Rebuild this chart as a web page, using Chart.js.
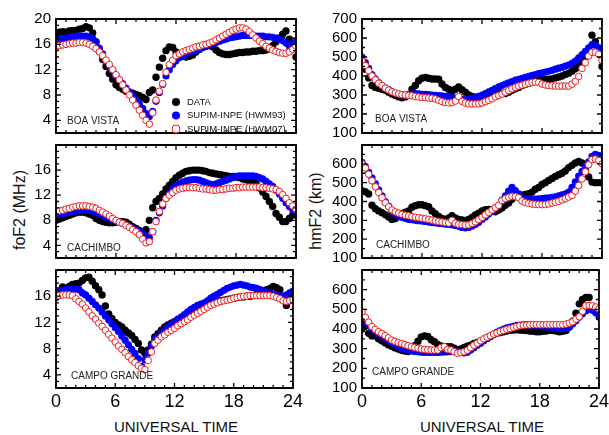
<!DOCTYPE html>
<html>
<head>
<meta charset="utf-8">
<script src="https://cdn.jsdelivr.net/npm/chart.js@4.4.0/dist/chart.umd.min.js"></script>
<style>
  body { margin: 0; background: #fff; }
  #wrap { position: relative; width: 609px; height: 435px; overflow: hidden; background: #fff;
          font-family: "Liberation Sans", Arial, Helvetica, sans-serif; color: #111; }
  #wrap canvas { position: absolute; }
  .lab { position: absolute; font-size: 15px; white-space: nowrap; transform: translate(-50%, -50%); }
  .rot { transform: translate(-50%, -50%) rotate(-90deg); font-size: 16px; }
</style>
</head>
<body>
<div id="wrap">
  <div class="lab rot" style="left:20px; top:210px;">foF2 (MHz)</div>
  <div class="lab rot" style="left:316px; top:211px;">hmF2 (km)</div>
  <div class="lab" style="left:176px; top:426px;">UNIVERSAL TIME</div>
  <div class="lab" style="left:482px; top:426px;">UNIVERSAL TIME</div>
</div>
<script>
// time grid: every 20 minutes, 0..24 UT
const hours = Array.from({ length: 73 }, (_, i) => i / 3);

const xTicks = [0, 6, 12, 18, 24];
const fofTicksTop = [4, 8, 12, 16, 20];
const fofTicks = [4, 8, 12, 16];
const hmfTicksTop = [100, 200, 300, 400, 500, 600, 700];
const hmfTicks = [100, 200, 300, 400, 500, 600];
const seriesNames = ['DATA', 'SUPIM-INPE (HWM93)', 'SUPIM-INPE (HWM07)'];

// foF2 (MHz) - Boa Vista
const bvFoData = [17.6,17.9,18.0, 17.9,18.1,18.2, 18.2,18.4,18.5, 18.8,18.6,17.8, 16.4,15.0,13.6, 12.5,11.4,10.5,
  9.6,9.2,8.9, 8.6,8.4,8.3, 8.1,7.9,7.6, 7.3,8.4,8.8, 10.8,12.4,13.8, 15.0,15.6,15.5,
  14.8,14.3,14.1, 14.0,14.1,14.3, 14.8,15.2,15.5, 15.7,15.8,15.6, 15.1,14.7,14.5, 14.4,14.4,14.5,
  14.6,14.7,14.7, 14.8,14.8,14.9, 14.9,15.0,15.0, 15.1,15.3,15.8, 16.4,17.0,17.6, 18.1,16.8,15.6,
  14.0];
const bvFo93 = [16.4,16.7,16.9, 17.0,17.1,17.2, 17.3,17.3,17.3, 17.3,17.2,16.9, 16.3,15.4,14.5, 13.4,12.6,11.8,
  11.1,10.4,9.8, 9.1,8.5,7.9, 7.2,6.6,5.9, 5.1,4.6,5.4, 7.0,8.4,9.7, 11.0,12.0,12.8,
  13.4,13.9,14.2, 14.5,14.7,14.9, 15.1,15.3,15.5, 15.7,15.9,16.1, 16.3,16.5,16.7, 16.8,17.0,17.1,
  17.2,17.3,17.4, 17.4,17.4,17.4, 17.3,17.3,17.3, 17.2,17.2,17.1, 17.0,16.8,16.6, 16.2,15.7,16.0,
  16.4];
const bvFo07 = [15.6,15.8,15.9, 16.0,16.1,16.2, 16.2,16.3,16.3, 16.2,16.0,15.7, 15.3,14.8,14.2, 13.5,12.8,12.0,
  11.2,10.4,9.6, 8.8,8.0,7.2, 6.4,5.6,4.8, 4.0,3.4,5.2, 7.2,8.6,9.8, 11.6,12.8,13.5,
  14.2,14.5,14.8, 15.0,15.2,15.4, 15.6,15.7,15.9, 16.0,16.2,16.4, 16.7,17.0,17.3, 17.6,17.9,18.2,
  18.4,18.6,18.6, 18.4,18.0,17.5, 17.0,16.5,16.1, 15.7,15.4,15.1, 14.9,14.7,14.6, 14.6,14.8,15.2,
  15.7];

// foF2 (MHz) - Cachimbo
const caFoData = [8.0,8.2,8.4, 8.6,8.8,9.0, 9.2,9.3,9.3, 9.2,9.0,8.8, 8.3,8.0,7.8, 7.7,7.6,7.6,
  7.7,7.8,7.8, 7.7,7.4,7.0, 6.7,6.4,6.0, 6.5,8.0,10.0, 11.0,11.5,12.2, 13.0,13.6,14.2,
  14.8,15.2,15.5, 15.8,15.9,16.0, 16.0,16.0,15.9, 15.8,15.6,15.5, 15.4,15.3,15.2, 15.1,15.0,15.0,
  14.9,14.8,14.6, 14.5,14.3,14.2, 14.0,13.2,12.5, 11.8,11.0,10.2, 9.1,8.5,7.8, 7.8,8.3,8.8,
  9.2];
const caFo93 = [8.9,9.0,9.1, 9.2,9.3,9.4, 9.5,9.6,9.7, 9.7,9.6,9.5, 9.3,9.0,8.8, 8.5,8.3,8.1,
  7.9,7.7,7.5, 7.3,7.0,6.8, 6.5,6.2,5.9, 5.5,5.2,6.2, 8.0,9.2,10.3, 11.5,12.3,13.0,
  13.5,13.8,14.1, 14.3,14.4,14.5, 14.5,14.4,14.2, 14.0,13.8,13.7, 13.8,14.0,14.2, 14.4,14.6,14.8,
  15.0,15.1,15.1, 15.1,15.1,15.1, 15.0,14.8,14.6, 14.2,13.8,13.4, 12.8,12.2,11.5, 10.8,10.2,9.7,
  9.3];
const caFo07 = [9.3,9.5,9.6, 9.8,9.9,10.1, 10.2,10.3,10.3, 10.3,10.2,10.1, 9.9,9.6,9.3, 9.0,8.7,8.3,
  8.0,7.7,7.5, 7.2,6.9,6.5, 6.2,5.7,5.0, 4.4,4.6,6.2, 7.8,9.4,10.6, 11.5,12.0,12.4,
  12.8,13.0,13.1, 13.2,13.2,13.2, 13.2,13.1,13.0, 13.0,12.9,12.8, 12.8,12.9,12.9, 13.0,13.1,13.1,
  13.2,13.2,13.3, 13.3,13.3,13.3, 13.3,13.3,13.2, 13.2,13.1,13.0, 12.9,12.6,12.1, 11.5,10.8,10.3,
  9.8];

// foF2 (MHz) - Campo Grande
const cgFoData = [15.8,16.6,17.4, 17.2,17.5,17.8, 17.9,18.0,18.4, 18.8,18.9,18.3, 17.6,17.0,16.2, 14.5,13.3,12.6,
  12.0,11.6,11.3, 10.8,10.4,10.0, 9.4,8.8,7.8, 7.3,7.8,8.7, 9.8,10.3,10.8, 11.3,11.6,11.9,
  12.1,12.3,12.5, 12.8,13.2,13.6, 13.8,14.0,14.3, 14.6,14.8,14.9, 15.0,15.2,15.3, 15.4,15.5,15.6,
  15.7,15.8,15.9, 15.9,16.0,16.0, 16.1,16.3,16.5, 16.8,17.0,17.2, 17.5,17.3,17.0, 15.6,14.6,15.8,
  16.3];
const cgFo93 = [16.8,16.9,16.9, 17.0,17.0,17.1, 17.1,17.0,16.5, 16.2,15.7,15.2, 14.7,14.2,13.6, 13.0,12.4,11.8,
  11.2,10.6,9.9, 9.3,8.6,7.9, 7.3,6.5,5.3, 6.3,7.3,8.4, 9.4,9.8,10.3, 10.8,11.3,11.7,
  12.1,12.5,12.8, 13.2,13.6,14.0, 14.3,14.6,14.8, 15.0,15.3,15.7, 16.0,16.3,16.6, 16.9,17.2,17.4,
  17.6,17.7,17.8, 17.7,17.6,17.4, 17.3,17.2,17.0, 16.8,16.6,16.5, 16.3,16.2,16.0, 16.0,16.2,16.5,
  16.8];
const cgFo07 = [16.0,16.1,16.2, 16.2,16.2,16.1, 15.6,15.2,14.8, 14.2,13.6,13.0, 12.5,11.9,11.4, 10.8,10.2,9.6,
  9.0,8.4,7.9, 7.4,6.8,6.3, 5.9,5.4,5.0, 4.8,6.2,7.5, 8.8,9.3,9.8, 10.1,10.5,10.8,
  11.1,11.5,11.8, 12.1,12.4,12.8, 13.1,13.4,13.7, 14.0,14.3,14.6, 14.8,15.0,15.2, 15.3,15.4,15.5,
  15.7,15.8,15.9, 16.0,16.0,16.1, 16.1,16.1,16.1, 16.1,16.1,16.1, 16.0,15.8,15.6, 15.3,15.2,15.3,
  15.4];

// hmF2 (km) - Boa Vista
const bvHmData = [455,435,390, 350,340,335, 330,325,315, 305,298,290, 285,290,300, 330,350,375,
  388,392,388, 384,384,383, 358,340,330, 318,330,342, 328,315,300, 292,288,285,
  290,300,308, 315,318,315, 310,308,315, 325,333,340, 350,355,362, 368,372,376,
  380,382,383, 385,390,395, 400,408,415, 425,438,450, 470,500,540, 615,580,520,
  450];
const bvHm93 = [500,470,440, 408,385,365, 350,338,328, 318,310,305, 300,300,302, 305,308,306,
  304,303,302, 300,298,297, 295,293,291, 287,284,281, 277,276,278, 282,287,293,
  300,308,317, 325,334,343, 350,358,364, 370,378,383, 388,393,398, 404,408,412,
  416,420,425, 430,436,441, 446,452,458, 467,478,495, 513,530,548, 565,563,550,
  520];
const bvHm07 = [480,455,428, 400,380,362, 350,336,326, 317,311,306, 302,300,298, 296,292,289,
  287,286,284, 283,279,272, 265,260,258, 260,268,292, 267,258,253, 253,253,254,
  258,265,272, 280,290,297, 305,314,323, 332,340,347, 352,357,362, 366,368,366,
  358,353,350, 348,347,347, 347,347,347, 357,372,398, 440,470,505, 525,525,515,
  483];

// hmF2 (km) - Cachimbo
const caHmData = [458,452,440, 380,362,350, 340,330,318, 305,310,325, 335,343,350, 370,378,383,
  383,378,372, 350,335,320, 310,305,312, 325,312,305, 302,300,305, 315,328,338,
  350,356,358, 352,345,355, 365,380,392, 412,428,432, 433,438,442, 450,465,475,
  490,500,512, 522,533,542, 550,562,580, 592,605,612, 605,567,530, 503,500,500,
  500];
const caHm93 = [608,585,555, 525,495,462, 430,400,375, 350,335,322, 315,310,305, 303,300,298,
  296,294,291, 288,286,284, 282,280,278, 276,272,268, 262,260,262, 270,278,290,
  305,318,333, 347,362,377, 408,430,455, 475,458,440, 420,416,414, 413,413,414,
  416,418,420, 422,425,430, 435,440,450, 475,505,535, 560,585,610, 640,650,645,
  617];
const caHm07 = [600,578,545, 510,478,448, 420,393,372, 355,345,338, 332,327,324, 320,317,314,
  311,308,305, 301,297,294, 291,288,286, 300,285,279, 277,275,276, 283,292,304,
  316,329,342, 355,367,380, 405,415,422, 427,426,420, 403,395,390, 387,385,384,
  383,384,387, 392,396,401, 408,415,424, 432,455,485, 520,558,595, 622,625,618,
  600];

// hmF2 (km) - Campo Grande
const cgHmData = [400,415,378, 365,365,350, 340,330,320, 312,305,298, 292,288,285, 298,315,338,
  360,365,362, 345,335,322, 314,310,310, 310,302,295, 298,306,312, 318,326,332,
  338,345,352, 362,372,378, 382,386,390, 393,395,396, 395,394,392, 390,388,386,
  386,388,390, 393,392,390, 386,388,392, 410,440,480, 528,550,561, 560,515,505,
  500];
const cgHm93 = [452,435,420, 400,388,377, 366,355,345, 330,322,314, 302,297,292, 289,286,284,
  282,281,281, 281,281,281, 282,283,284, 285,285,285, 282,278,282, 293,305,318,
  328,340,352, 362,374,384, 392,400,406, 410,414,418, 420,421,422, 421,420,419,
  417,414,411, 410,408,406, 404,402,405, 410,425,442, 460,478,492, 502,495,482,
  461];
const cgHm07 = [486,460,435, 412,398,386, 377,366,355, 344,337,330, 326,320,315, 310,306,302,
  298,296,294, 293,293,293, 305,310,296, 293,284,277, 280,284,292, 305,318,328,
  340,350,358, 366,374,380, 387,392,398, 402,407,412, 417,419,420, 421,422,422,
  422,422,422, 422,422,422, 422,422,425, 430,437,450, 462,490,518, 520,518,512,
  503];

Chart.defaults.font.family = '"Liberation Sans", Arial, Helvetica, sans-serif';
Chart.defaults.color = '#000';

const wrap = document.getElementById('wrap');
const colLeft = [56, 362];
const rows = [{ top: 17, h: 120 }, { top: 143, h: 119 }, { top: 268, h: 120 }];

const pointStyles = [
  { pointBackgroundColor: '#000', pointBorderColor: '#000', pointBorderWidth: 0, pointRadius: 3.7, order: 3 },
  { pointBackgroundColor: '#0000ff', pointBorderColor: '#0000ff', pointBorderWidth: 0, pointRadius: 3.6, order: 2 },
  { pointBackgroundColor: '#fff', pointBorderColor: '#ee1c1c', pointBorderWidth: 1, pointRadius: 3.3, order: 1 }
];

// frame with inward ticks on all sides, station name, optional legend
function drawFrame(chart, o) {
  const ctx = chart.ctx, a = chart.chartArea;
  const x = chart.scales.x, y = chart.scales.y;
  const L = a.left, R = a.right, T = a.top, B = a.bottom;
  ctx.save();
  ctx.setLineDash([]);
  ctx.globalAlpha = 1;
  ctx.strokeStyle = 'rgb(0,0,0)';
  ctx.lineWidth = 1.3;
  ctx.beginPath();
  for (let t = 0; t <= 24; t++) {
    const px = x.getPixelForValue(t), len = t % 6 === 0 ? 5 : 3;
    ctx.moveTo(px, B); ctx.lineTo(px, B - len);
    ctx.moveTo(px, T); ctx.lineTo(px, T + len);
  }
  for (let v = o.yMin; v <= o.yMax; v += o.yMinor) {
    const py = y.getPixelForValue(v), len = v % o.yMajor === 0 ? 5 : 3;
    ctx.moveTo(L, py); ctx.lineTo(L + len, py);
    ctx.moveTo(R, py); ctx.lineTo(R - len, py);
  }
  ctx.stroke();
  ctx.lineWidth = 1.8;
  ctx.beginPath();
  ctx.moveTo(L, T); ctx.lineTo(R, T); ctx.lineTo(R, B); ctx.lineTo(L, B); ctx.closePath();
  ctx.stroke();

  ctx.font = '10px "Liberation Sans", Arial, sans-serif';
  ctx.fillStyle = '#222';
  ctx.textBaseline = 'middle';
  ctx.textAlign = 'left';
  ctx.fillText(o.name, L + o.nx, B - o.ny);

  if (o.legend) {
    ctx.font = '9.5px "Liberation Sans", Arial, sans-serif';
    chart.data.datasets.forEach((d, i) => {
      const yy = T + 83 + i * 13.5;
      ctx.beginPath();
      ctx.arc(L + 120, yy, 4, 0, Math.PI * 2);
      ctx.fillStyle = d.pointBackgroundColor;
      ctx.fill();
      if (d.pointBorderWidth) {
        ctx.lineWidth = 1;
        ctx.strokeStyle = d.pointBorderColor;
        ctx.stroke();
      }
      ctx.fillStyle = '#111';
      ctx.fillText(d.label, L + 131, yy);
    });
  }
  ctx.restore();
}

const panels = [
  { row: 0, col: 0, series: [bvFoData, bvFo93, bvFo07], name: 'BOA VISTA', nx: 11, ny: 12, legend: true },
  { row: 0, col: 1, series: [bvHmData, bvHm93, bvHm07], name: 'BOA VISTA', nx: 13, ny: 14 },
  { row: 1, col: 0, series: [caFoData, caFo93, caFo07], name: 'CACHIMBO', nx: 11, ny: 10 },
  { row: 1, col: 1, series: [caHmData, caHm93, caHm07], name: 'CACHIMBO', nx: 14, ny: 13 },
  { row: 2, col: 0, series: [cgFoData, cgFo93, cgFo07], name: 'CAMPO GRANDE', nx: 15, ny: 12 },
  { row: 2, col: 1, series: [cgHmData, cgHm93, cgHm07], name: 'CAMPO GRANDE', nx: 10, ny: 16 }
];

panels.forEach(p => {
  const row = rows[p.row];
  const last = p.row === 2;
  const isFo = p.col === 0;
  const c = document.createElement('canvas');
  c.width = 56 + 240 + 10;
  c.height = 12 + row.h + (last ? 40 : 10);
  c.style.left = (colLeft[p.col] - 56) + 'px';
  c.style.top = (row.top - 12) + 'px';
  wrap.appendChild(c);

  const yTicks = isFo ? (p.row === 0 ? fofTicksTop : fofTicks) : (p.row === 0 ? hmfTicksTop : hmfTicks);
  const frameOpts = {
    yMin: isFo ? 2 : 100, yMax: isFo ? 20 : 700,
    yMinor: isFo ? 1 : 50, yMajor: isFo ? 4 : 100,
    name: p.name, nx: p.nx, ny: p.ny, legend: !!p.legend
  };

  new Chart(c, {
    type: 'scatter',
    data: {
      datasets: p.series.map((vals, i) => ({
        label: seriesNames[i],
        data: vals.map((v, k) => ({ x: hours[k], y: v })),
        clip: 0,
        ...pointStyles[i]
      }))
    },
    options: {
      responsive: false,
      animation: false,
      devicePixelRatio: 1,
      events: [],
      layout: { autoPadding: false, padding: { top: 12, right: 10, bottom: 10, left: 0 } },
      plugins: { legend: { display: false }, tooltip: { enabled: false } },
      scales: {
        x: {
          type: 'linear', min: 0, max: 24, display: last,
          grid: { display: false, drawTicks: false },
          border: { display: false },
          afterBuildTicks: s => { s.ticks = xTicks.map(v => ({ value: v })); },
          afterFit: s => { s.height = last ? 30 : 0; },
          ticks: { font: { size: 18 }, padding: 3, maxRotation: 0, autoSkip: false }
        },
        y: {
          min: isFo ? 2 : 100, max: isFo ? 20 : 700,
          grid: { display: false, drawTicks: false },
          border: { display: false },
          afterBuildTicks: s => { s.ticks = yTicks.map(v => ({ value: v })); },
          afterFit: s => { s.width = 56; },
          ticks: { font: { size: 15 }, padding: 5, autoSkip: false }
        }
      }
    },
    plugins: [{ id: 'frame' + p.row + p.col, afterDraw: chart => drawFrame(chart, frameOpts) }]
  });
});
</script>
</body>
</html>
